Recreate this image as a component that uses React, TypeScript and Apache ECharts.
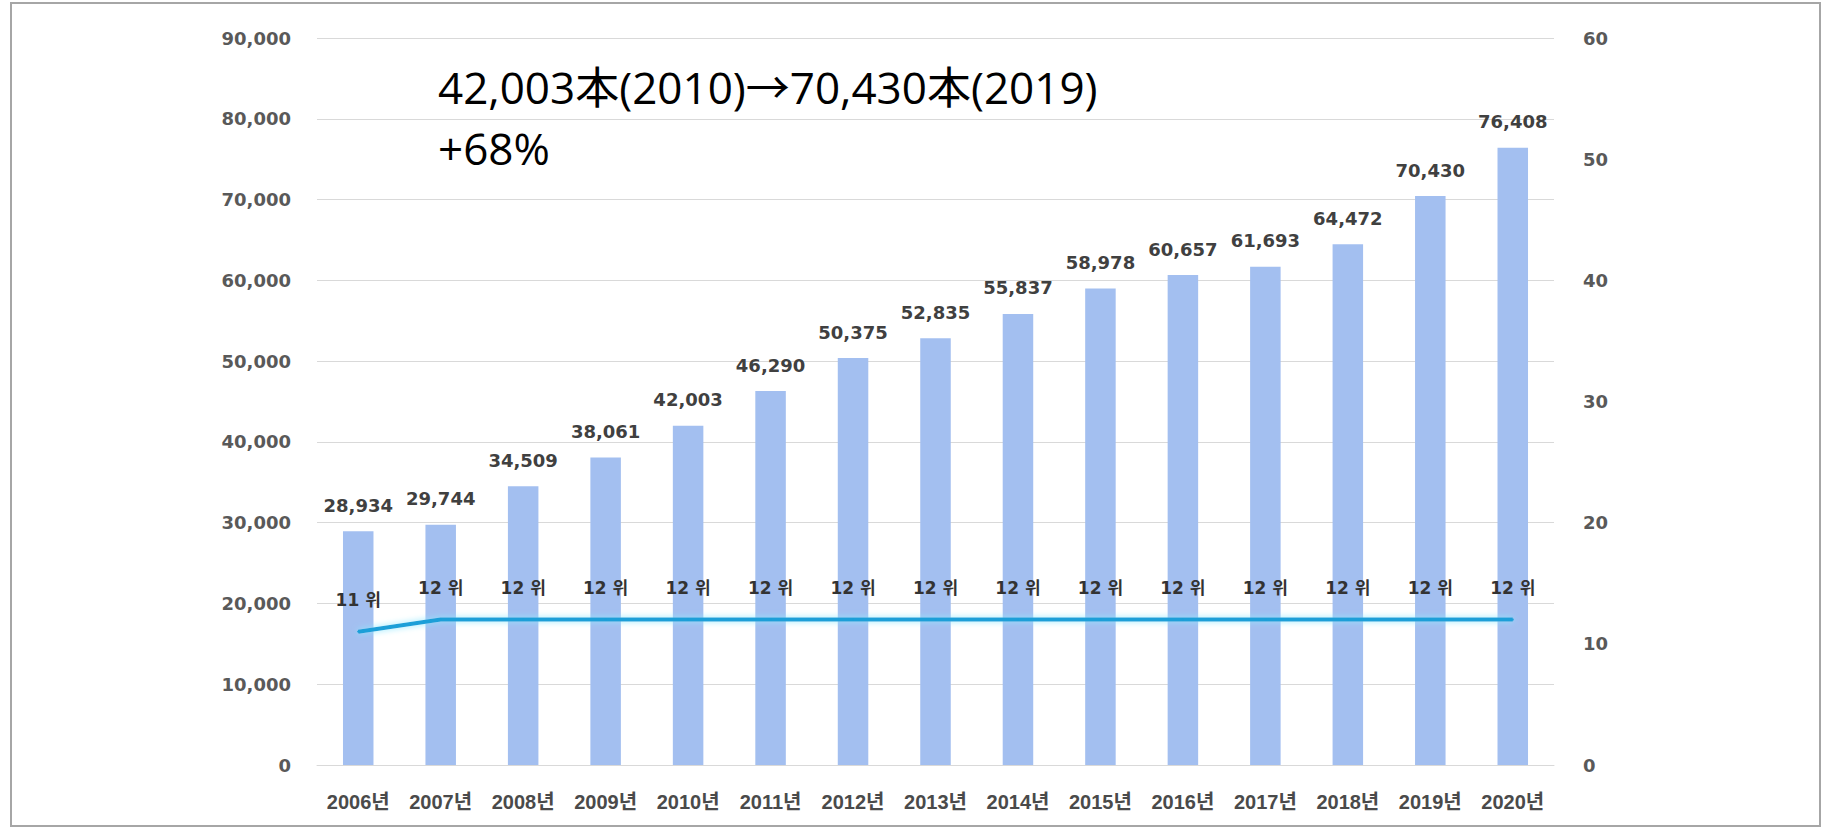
import React, { useEffect, useRef } from "react";
import * as echarts from "echarts";

const years = ["2006년", "2007년", "2008년", "2009년", "2010년", "2011년", "2012년", "2013년", "2014년", "2015년", "2016년", "2017년", "2018년", "2019년", "2020년"];
const counts = [28934, 29744, 34509, 38061, 42003, 46290, 50375, 52835, 55837, 58978, 60657, 61693, 64472, 70430, 76408];
const ranks = [11, 12, 12, 12, 12, 12, 12, 12, 12, 12, 12, 12, 12, 12, 12];
const noteLine1 = "42,003本(2010)→70,430本(2019)";
const noteLine2 = "+68%";

const FONT = '"DejaVu Sans", "Noto Sans CJK KR", sans-serif';
const XFONT = '"Liberation Sans", "Noto Sans CJK KR", sans-serif';

export default function App() {
  const ref = useRef<HTMLDivElement>(null);
  useEffect(() => {
    if (!ref.current) return;
    const chart = echarts.init(ref.current, null, { renderer: "svg" });
    const fmt = (v: number) => v.toLocaleString("en-US");
    chart.setOption({
      animation: false,
      backgroundColor: "#ffffff",
      grid: { left: 317, right: 271, top: 38, bottom: 64 },
      xAxis: {
        type: "category",
        data: years,
        axisLine: { show: true, lineStyle: { color: "#d9d9d9", width: 1 } },
        axisTick: { show: false },
        axisLabel: {
          interval: 0,
          color: "#4a4a4a",
          fontFamily: XFONT,
          fontWeight: "bold",
          fontSize: 20,
          margin: 27,
        },
      },
      yAxis: [
        {
          type: "value",
          min: 0,
          max: 90000,
          interval: 10000,
          axisLine: { show: false },
          axisTick: { show: false },
          splitLine: { lineStyle: { color: "#d9d9d9", width: 1 } },
          axisLabel: {
            color: "#595959",
            fontFamily: FONT,
            fontWeight: "bold",
            fontSize: 18,
            margin: 26,
            formatter: (v: number) => fmt(v),
          },
        },
        {
          type: "value",
          min: 0,
          max: 60,
          interval: 10,
          position: "right",
          axisLine: { show: false },
          axisTick: { show: false },
          splitLine: { show: false },
          axisLabel: {
            color: "#595959",
            fontFamily: FONT,
            fontWeight: "bold",
            fontSize: 18,
            margin: 29,
          },
        },
      ],
      series: [
        {
          type: "bar",
          data: counts,
          barWidth: "37%",
          itemStyle: { color: "#a3bff0" },
          label: {
            show: true,
            position: "top",
            distance: 17,
            color: "#404040",
            fontFamily: FONT,
            fontWeight: "bold",
            fontSize: 18,
            formatter: (p: any) => fmt(p.value),
          },
        },
        {
          type: "line",
          yAxisIndex: 1,
          data: ranks,
          showSymbol: true,
          symbol: "circle",
          symbolSize: 2,
          itemStyle: { color: "#1a9fd8" },
          lineStyle: { color: "#1a9fd8", width: 4, shadowColor: "#8ee8ff", shadowBlur: 6 },
          label: {
            show: true,
            position: "top",
            distance: 22,
            color: "#333333",
            fontFamily: FONT,
            fontWeight: "bold",
            fontSize: 17,
            formatter: (p: any) => `${p.value} 위`,
          },
          z: 5,
        },
      ],
      graphic: [
        {
          type: "rect",
          shape: { x: 11, y: 3, width: 1809, height: 823 },
          style: { fill: "none", stroke: "#a6a6a6", lineWidth: 2 },
          silent: true,
        },
        {
          type: "text",
          x: 438,
          y: 65,
          style: {
            text: noteLine1,
            font: '44px "Open Sans", "Noto Sans CJK JP", sans-serif',
            fill: "#000000",
            textVerticalAlign: "top",
          },
        },
        {
          type: "text",
          x: 438,
          y: 126,
          style: {
            text: noteLine2,
            font: '44px "Open Sans", "Noto Sans CJK JP", sans-serif',
            fill: "#000000",
            textVerticalAlign: "top",
          },
        },
      ],
    });
    return () => chart.dispose();
  }, []);
  return <div ref={ref} style={{ position: "fixed", left: 0, top: 0, width: 1825, height: 829 }} />;
}
